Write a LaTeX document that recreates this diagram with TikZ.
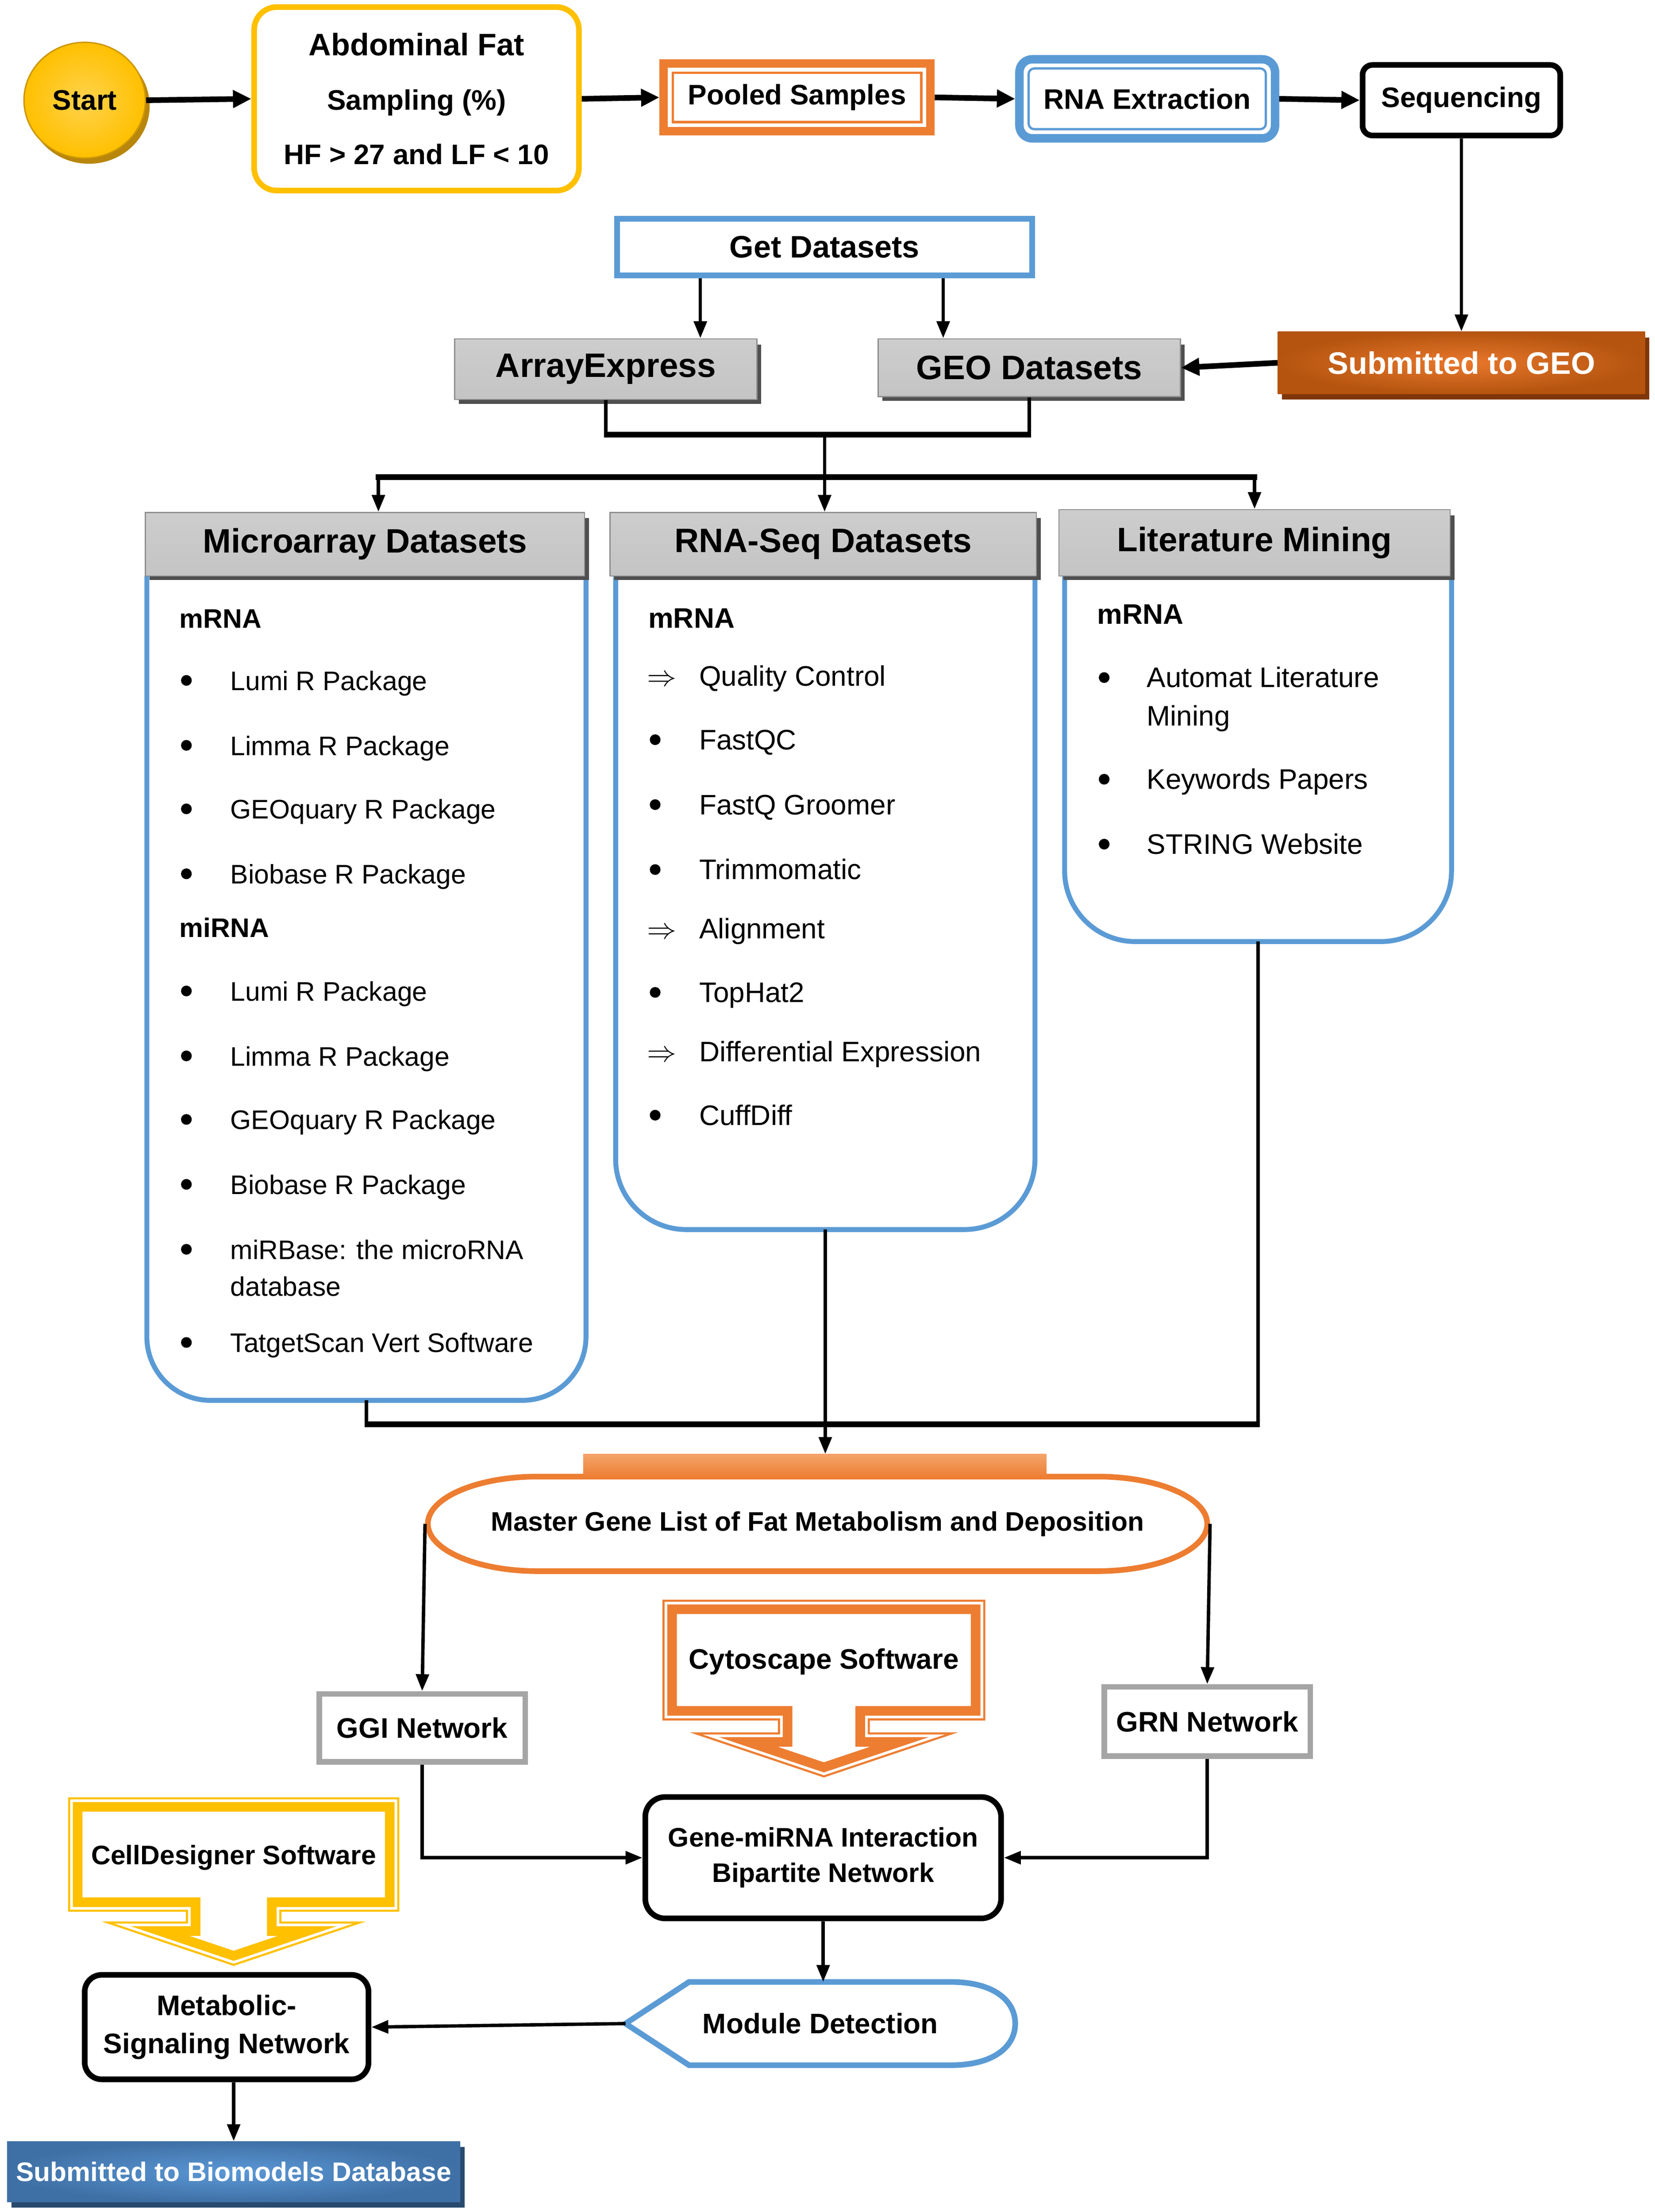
\documentclass[tikz,border=0pt]{standalone}
\usepackage{fontspec}
\setmainfont{Liberation Sans}
\usetikzlibrary{arrows.meta,shapes.geometric}
\definecolor{gold}{HTML}{FFC000}
\definecolor{goldL}{HTML}{FFD34D}
\definecolor{goldS}{HTML}{B8860B}
\definecolor{orng}{HTML}{ED7D31}
\definecolor{orngL}{HTML}{F4A46A}
\definecolor{blu}{HTML}{5B9BD5}
\definecolor{gbord}{HTML}{A5A5A5}
\definecolor{grT}{HTML}{CDCDCD}
\definecolor{grM}{HTML}{A4A4A4}
\definecolor{grB}{HTML}{C4C4C4}
\definecolor{grE}{HTML}{8E8E8E}
\definecolor{grS}{HTML}{4F4F4F}
\definecolor{geoIn}{HTML}{E9782C}
\definecolor{geoOut}{HTML}{B4540F}
\definecolor{geoS}{HTML}{7F3609}
\definecolor{bioIn}{HTML}{5B98D6}
\definecolor{bioOut}{HTML}{3F70A5}
\definecolor{bioS}{HTML}{284A6E}
\newcommand\tsz[2]{\fontsize{#1}{#2}\selectfont}
\newcommand\cytopath{(476,1140) -- (691,1140) -- (691,1212) -- (609.25,1212) -- (609.25,1234) -- (637,1234) -- (583.5,1252) -- (530,1234) -- (557.75,1234) -- (557.75,1212) -- (476,1212) -- cycle}
\newcommand\cellpath{(55,1280) -- (276,1280) -- (276,1347.5) -- (192.5,1347.5) -- (192.5,1368) -- (217.5,1368) -- (165.5,1385.5) -- (113.5,1368) -- (138.5,1368) -- (138.5,1347.5) -- (55,1347.5) -- cycle}
\tikzset{
 ln/.style={line width=2.4pt},
 lnT/.style={line width=4pt},
 ar/.style={line width=2.4pt, -{Triangle[length=12pt,width=9pt]}},
 arT/.style={line width=4pt, -{Triangle[length=13pt,width=12pt]}},
 graybox/.style={top color=grT, middle color=grM, bottom color=grB, draw=grE, line width=0.8pt, inner sep=0pt, font=\bfseries\tsz{24}{28}},
 panel/.style={draw=blu, line width=3.5pt},
 ghost/.style={inner sep=0pt, outer sep=0pt},
 itm/.style={anchor=base west, inner sep=0pt, font=\tsz{19}{23}},
 itmb/.style={itm, font=\bfseries\tsz{19}{23}},
 itmL/.style={anchor=base west, inner sep=0pt, font=\tsz{20}{24}},
 itmLb/.style={itmL, font=\bfseries\tsz{20}{24}},
 lbl/.style={font=\bfseries\tsz{20}{24}},
}
\begin{document}
\begin{tikzpicture}[x=1pt,y=-1pt,line join=miter]
\useasboundingbox[fill=white] (0,0) rectangle (1172,1567);

% ---------- top row ----------
\fill[goldS] (63,75) ellipse [x radius=43, y radius=41];
\node[ellipse, draw=goldS!70!gold, line width=1pt, inner color=goldL, outer color=gold, minimum width=86, minimum height=82, lbl] (start) at (60,71) {Start};

\node[draw=gold, line width=4pt, rounded corners=16, minimum width=230, minimum height=130, align=center, font=\bfseries\tsz{20}{38.5}] (abd) at (295,70) {{\tsz{22}{38.5}Abdominal Fat}\\Sampling (\%)\\HF > 27 and LF < 10};

\node[draw=orng, line width=6pt, minimum width=189, minimum height=48, lbl] (pool) at (564.5,69) {Pooled Samples};
\draw[orng, line width=1.6pt] ([shift={(9.5,9.5)}]pool.north west) rectangle ([shift={(-9.5,-9.5)}]pool.south east);

\node[draw=blu, line width=6pt, rounded corners=9, minimum width=181, minimum height=56, lbl] (rnae) at (812.5,70) {RNA Extraction};
\draw[blu, line width=1.6pt, rounded corners=4] ([shift={(9.5,9.5)}]rnae.north west) rectangle ([shift={(-9.5,-9.5)}]rnae.south east);

\node[draw=black, line width=4pt, rounded corners=7, minimum width=140, minimum height=50, lbl] (seq) at (1035,71) {Sequencing};

\draw[arT] (start.east) -- (abd.west);
\draw[arT] (abd.east) -- (pool.west);
\draw[arT] (pool.east) -- (rnae.west);
\draw[arT] (rnae.east) -- (seq.west);

% ---------- datasets ----------
\fill[geoS] (908,239) rectangle (1168,283);
\node[inner color=geoIn, outer color=geoOut, minimum width=260, minimum height=44, text=white, font=\bfseries\tsz{22}{26}] (geosub) at (1035,257) {Submitted to GEO};
\draw[ar] (seq.south) -- (geosub.north);

\node[draw=blu, line width=4pt, minimum width=294, minimum height=40, font=\bfseries\tsz{22}{26}] (getds) at (584,175) {Get Datasets};

\fill[grS] (325,244) rectangle (539,286);
\node[graybox, minimum width=214, minimum height=43] (ae) at (429,261.5) {ArrayExpress};
\fill[grS] (625,244) rectangle (839,284);
\node[graybox, minimum width=214, minimum height=41] (geods) at (729,260.5) {GEO Datasets};

\draw[arT] (geosub.west) -- (geods.east);

\coordinate (gx1) at (496,0);
\coordinate (gx2) at (668,0);
\draw[ar] (getds.south -| gx1) -- (ae.north -| gx1);
\draw[ar] (getds.south -| gx2) -- (geods.north -| gx2);

\coordinate (jn1) at (584,308);
\coordinate (jn2) at (584,338);
\coordinate (bx1) at (268,338);
\draw[ln] (ae.south) -- (ae.south |- jn1);
\draw[ln] (geods.south) -- (geods.south |- jn1);
\draw[lnT] ([xshift=-1.2]ae.south |- jn1) -- ([xshift=1.2]geods.south |- jn1);
\draw[ln] (jn1) -- (jn2);

% ---------- panels ----------
\node[ghost, minimum width=311, minimum height=584] (mb) at (259.5,700) {};
\node[ghost, minimum width=297, minimum height=463] (rb) at (584.5,639.5) {};
\node[ghost, minimum width=274, minimum height=259] (lb) at (891,537.5) {};
\draw[panel, rounded corners=45] (mb.north west) -- (mb.south west) -- (mb.south east) -- (mb.north east);
\draw[panel, rounded corners=50] (rb.north west) -- (rb.south west) -- (rb.south east) -- (rb.north east);
\draw[panel, rounded corners=50] (lb.north west) -- (lb.south west) -- (lb.south east) -- (lb.north east);

\fill[grS] (106,367) rectangle (417,411);
\node[graybox, minimum width=311, minimum height=45] (mh) at (258.5,385.5) {Microarray Datasets};
\fill[grS] (435,367) rectangle (737,411);
\node[graybox, minimum width=302, minimum height=45] (rh) at (583,385.5) {RNA-Seq Datasets};
\fill[grS] (753,365) rectangle (1030,411);
\node[graybox, minimum width=277, minimum height=47] (lh) at (888.5,384.5) {Literature Mining};

\draw[lnT] ([xshift=-2]bx1) -- ([xshift=2]lh.north |- jn2);
\draw[ar] (bx1) -- (bx1 |- mh.north);
\draw[ar] (jn2) -- (jn2 |- rh.north);
\draw[ar] (lh.north |- jn2) -- (lh.north);

% microarray items
\node[itmb] (ma0) at (127,445) {mRNA};
\fill (132,482) circle (3.8); \node[itm] (ma1) at (163,489) {Lumi R Package};
\fill (132,528) circle (3.8); \node[itm] (ma2) at (163,535) {Limma R Package};
\fill (132,573) circle (3.8); \node[itm] (ma3) at (163,580) {GEOquary R Package};
\fill (132,619) circle (3.8); \node[itm] (ma4) at (163,626) {Biobase R Package};
\node[itmb] (ma5) at (127,664) {miRNA};
\fill (132,702) circle (3.8); \node[itm] (ma6) at (163,709) {Lumi R Package};
\fill (132,748) circle (3.8); \node[itm] (ma7) at (163,755) {Limma R Package};
\fill (132,793) circle (3.8); \node[itm] (ma8) at (163,800) {GEOquary R Package};
\fill (132,839) circle (3.8); \node[itm] (ma9) at (163,846) {Biobase R Package};
\fill (132,885) circle (3.8); \node[itm] (ma10) at (163,892) {miRBase: the microRNA};
\node[itm] (ma11) at (163,918) {database};
\fill (132,951) circle (3.8); \node[itm] (ma12) at (163,958) {TatgetScan Vert Software};

% rna-seq items
\node[itmLb] (rs0) at (459,445) {mRNA};
\node[itmL] (rs1a) at (458,486) {$\Rightarrow$}; \node[itmL] (rs1) at (495,486) {Quality Control};
\fill (464,524) circle (3.8); \node[itmL] (rs2) at (495,531) {FastQC};
\fill (464,570) circle (3.8); \node[itmL] (rs3) at (495,577) {FastQ Groomer};
\fill (464,616) circle (3.8); \node[itmL] (rs4) at (495,623) {Trimmomatic};
\node[itmL] (rs5a) at (458,665) {$\Rightarrow$}; \node[itmL] (rs5) at (495,665) {Alignment};
\fill (464,703) circle (3.8); \node[itmL] (rs6) at (495,710) {TopHat2};
\node[itmL] (rs7a) at (458,752) {$\Rightarrow$}; \node[itmL] (rs7) at (495,752) {Differential Expression};
\fill (464,790) circle (3.8); \node[itmL] (rs8) at (495,797) {CuffDiff};

% literature items
\node[itmLb] (lm0) at (777,442) {mRNA};
\fill (782,480) circle (3.8); \node[itmL] (lm1) at (812,487) {Automat Literature};
\node[itmL] (lm2) at (812,514) {Mining};
\fill (782,552) circle (3.8); \node[itmL] (lm3) at (812,559) {Keywords Papers};
\fill (782,598) circle (3.8); \node[itmL] (lm4) at (812,605) {STRING Website};

% ---------- master ----------
\draw[orng, line width=4pt] (381,1046) -- (777,1046) .. controls (820.1,1046) and (855,1061) .. (855,1079.5) .. controls (855,1098) and (820.1,1113) .. (777,1113) -- (381,1113) .. controls (337.9,1113) and (303,1098) .. (303,1079.5) .. controls (303,1061) and (337.9,1046) .. (381,1046) -- cycle;
\node[ghost, minimum width=556, minimum height=71, font=\bfseries\tsz{19}{23}] (master) at (579,1079.5) {Master Gene List of Fat Metabolism and Deposition};
\node[ghost, top color=orngL, bottom color=orng, minimum width=328, minimum height=17] (mbar) at (577,1038.5) {};

\coordinate (bb) at (0,1009);
\draw[ln] (mb.south) -- (mb.south |- bb);
\draw[ln] (lb.south) -- (lb.south |- bb);
\draw[lnT] ([xshift=-1.2]mb.south |- bb) -- ([xshift=1.2]lb.south |- bb);
\draw[ar] (rb.south) -- (rb.south |- mbar.north);

% ---------- networks ----------
\node[draw=gbord, line width=4pt, minimum width=146, minimum height=48, lbl] (ggi) at (299,1224) {GGI Network};
\node[draw=gbord, line width=4pt, minimum width=146, minimum height=49, lbl] (grn) at (855,1219.5) {GRN Network};
\draw[ar] (master.west) -- (ggi.north);
\draw[ar] (master.east) -- (grn.north);

% callouts
\draw[orng, line width=13.6pt] \cytopath;
\draw[white, line width=10.6pt] \cytopath;
\fill[white] \cytopath;
\draw[orng, line width=6.8pt] \cytopath;
\node[lbl] (cyto) at (583.5,1177) {Cytoscape Software};

\draw[gold, line width=13.6pt] \cellpath;
\draw[white, line width=10.6pt] \cellpath;
\fill[white] \cellpath;
\draw[gold, line width=6.8pt] \cellpath;
\node[font=\bfseries\tsz{19}{23}] (celld) at (165.5,1316) {CellDesigner Software};

\node[draw=black, line width=4pt, rounded corners=14, minimum width=252, minimum height=86, align=center, font=\bfseries\tsz{19}{25}] (gene) at (583,1316) {Gene-miRNA Interaction\\Bipartite Network};
\draw[ar] (ggi.south) |- (gene.west);
\draw[ar] (grn.south) |- (gene.east);

\node[ghost, minimum width=276, minimum height=59, lbl] (mod) at (581,1433.5) {Module Detection};
\draw[blu, line width=4pt] (mod.west) -- (488,1404) -- (673,1404) .. controls (705,1404) and (719,1418) .. (mod.east) .. controls (719,1449) and (705,1463) .. (673,1463) -- (488,1463) -- cycle;
\draw[ar] (gene.south) -- (gene.south |- mod.north);

\node[draw=black, line width=4pt, rounded corners=12, minimum width=201, minimum height=74, align=center, font=\bfseries\tsz{20}{27}] (meta) at (160.5,1436) {Metabolic-\\Signaling Network};
\draw[ar] (mod.west) -- (meta.east);

\fill[bioS] (8,1521) rectangle (329,1564);
\node[inner color=bioIn, outer color=bioOut, minimum width=321, minimum height=43, text=white, font=\bfseries\tsz{19}{23}] (bio) at (165.5,1538.5) {Submitted to Biomodels Database};
\draw[ar] (bio.north |- meta.south) -- (bio.north);
\end{tikzpicture}
\end{document}
